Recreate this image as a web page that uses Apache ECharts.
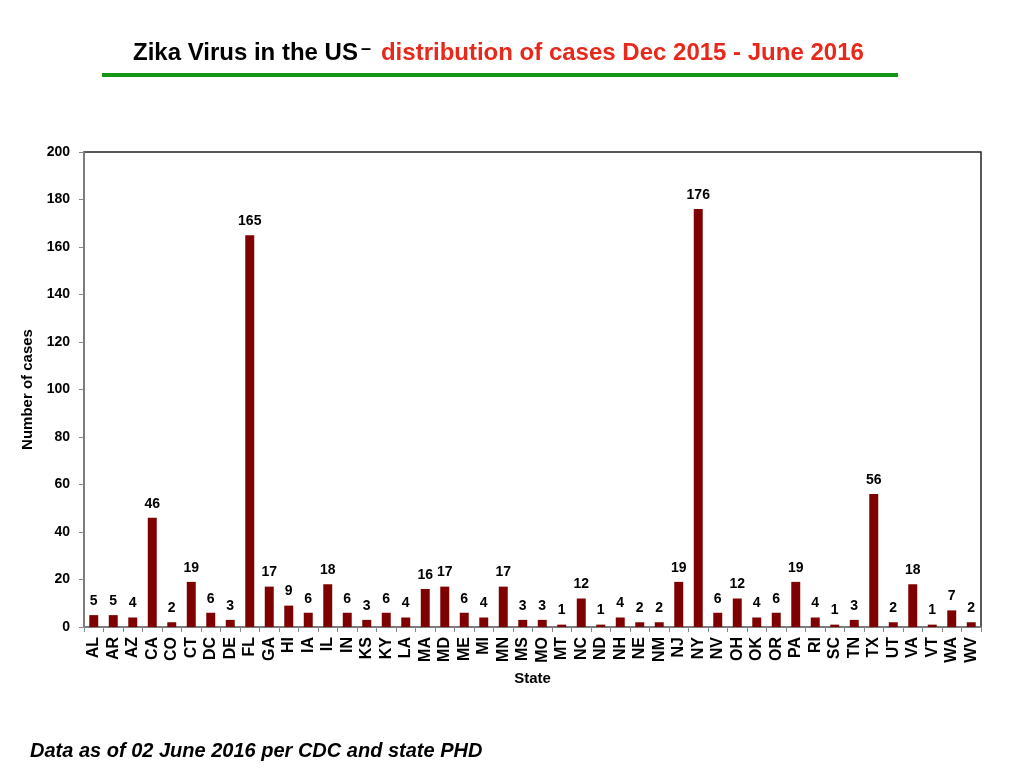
<!DOCTYPE html>
<html>
<head>
<meta charset="utf-8">
<script src="https://cdn.jsdelivr.net/npm/echarts@6/dist/echarts.min.js"></script>
<style>
  html, body { margin: 0; padding: 0; background: #fff; }
  #chart { width: 1024px; height: 768px; }
</style>
</head>
<body>
<div id="chart"></div>
<script>
var states = ['AL','AR','AZ','CA','CO','CT','DC','DE','FL','GA','HI','IA','IL','IN','KS','KY','LA','MA','MD','ME','MI','MN','MS','MO','MT','NC','ND','NH','NE','NM','NJ','NY','NV','OH','OK','OR','PA','RI','SC','TN','TX','UT','VA','VT','WA','WV'];
var cases = [5,5,4,46,2,19,6,3,165,17,9,6,18,6,3,6,4,16,17,6,4,17,3,3,1,12,1,4,2,2,19,176,6,12,4,6,19,4,1,3,56,2,18,1,7,2];
var yTicks = [0,20,40,60,80,100,120,140,160,180,200];

var chart = echarts.init(document.getElementById('chart'));
var font = 'Helvetica, Arial, "Liberation Sans", sans-serif';

chart.setOption({
  animation: false,
  title: {
    text: '{a|Zika Virus in the US}{d|–}{b|distribution of cases Dec 2015 - June 2016}',
    left: 128,
    top: 35,
    textStyle: {
      rich: {
        a: { fontFamily: font, fontWeight: 'bold', fontSize: 24, color: '#000' },
        d: { fontFamily: font, fontWeight: 'bold', fontSize: 18, color: '#000', verticalAlign: 'top', padding: [0, 10, 8, 3] },
        b: { fontFamily: font, fontWeight: 'bold', fontSize: 24, color: '#e8281a' }
      }
    }
  },
  graphic: [
    { type: 'rect', shape: { x: 102, y: 73, width: 796, height: 4 }, style: { fill: '#139613' } },
    { type: 'text', left: 30, top: 741, style: { text: 'Data as of 02 June 2016 per CDC and state PHD', fontFamily: font, fontStyle: 'italic', fontWeight: 'bold', fontSize: 20, fill: '#000' } }
  ],
  grid: { left: 84, right: 43, top: 152, bottom: 141, show: true, borderColor: '#222', borderWidth: 1.5, backgroundColor: 'transparent' },
  xAxis: {
    type: 'category',
    data: states,
    name: 'State',
    nameLocation: 'middle',
    nameGap: 44,
    nameTextStyle: { fontFamily: font, fontWeight: 'bold', fontSize: 15, color: '#000' },
    axisLine: { lineStyle: { color: '#888', width: 1.5 } },
    axisTick: { show: true, alignWithLabel: false, length: 5, lineStyle: { color: '#888' } },
    axisLabel: { rotate: 90, interval: 0, fontFamily: font, fontWeight: 'bold', fontSize: 16, color: '#000', margin: 10 }
  },
  yAxis: {
    type: 'value',
    min: yTicks[0],
    max: yTicks[yTicks.length - 1],
    interval: 20,
    name: 'Number of cases',
    nameLocation: 'middle',
    nameGap: 46,
    nameTextStyle: { fontFamily: font, fontWeight: 'bold', fontSize: 15, color: '#000' },
    axisLine: { show: true, lineStyle: { color: '#888', width: 1.5 } },
    axisTick: { show: true, length: 5, lineStyle: { color: '#888' } },
    splitLine: { show: false },
    axisLabel: { fontFamily: font, fontWeight: 'bold', fontSize: 14, color: '#000', margin: 14 }
  },
  series: [{
    type: 'bar',
    data: cases,
    barWidth: '46%',
    itemStyle: { color: '#7f0000' },
    label: { show: true, position: 'top', distance: 7, fontFamily: font, fontWeight: 'bold', fontSize: 14, color: '#000' }
  }]
});
</script>
</body>
</html>
